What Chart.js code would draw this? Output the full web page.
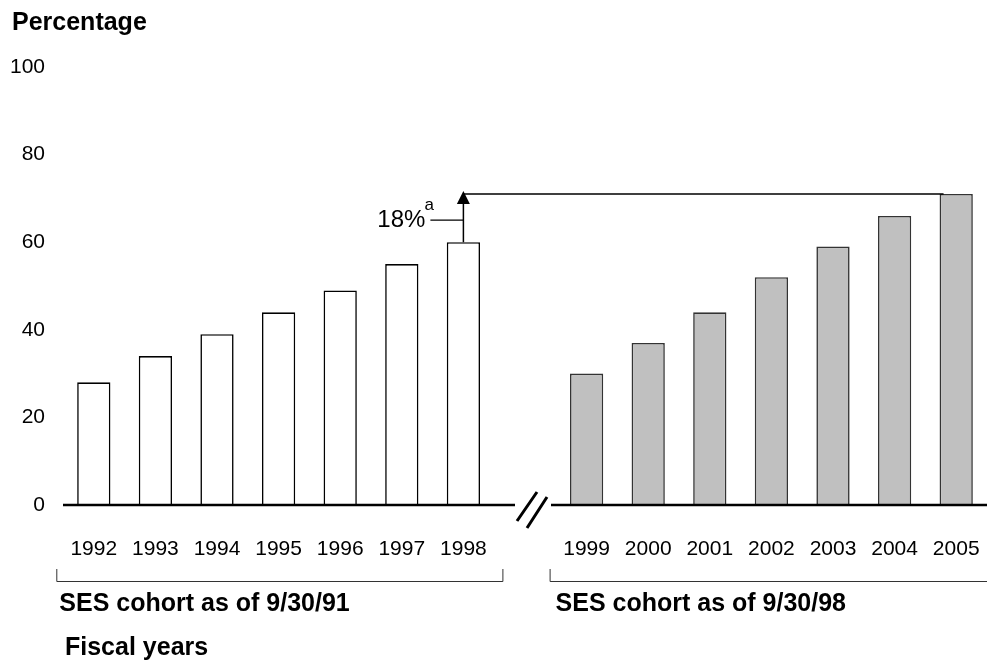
<!DOCTYPE html>
<html>
<head>
<meta charset="utf-8">
<script src="https://cdn.jsdelivr.net/npm/chart.js@4/dist/chart.umd.min.js"></script>
<style>
  html, body { margin: 0; padding: 0; background: #fff; overflow: hidden; }
  #wrap { width: 987px; height: 664px; position: relative; }
</style>
</head>
<body>
<div id="wrap"><canvas id="c" width="987" height="664"></canvas></div>
<script>
// ---- data ----
const yearsCohort91 = ['1992', '1993', '1994', '1995', '1996', '1997', '1998'];
const valuesCohort91 = [28, 34, 39, 44, 49, 55, 60];
const yearsCohort98 = ['1999', '2000', '2001', '2002', '2003', '2004', '2005'];
const valuesCohort98 = [30, 37, 44, 52, 59, 66, 71];
const yTicks = [0, 20, 40, 60, 80, 100];
const yAxisTitle = 'Percentage';
const xAxisTitle = 'Fiscal years';
const groupLabel91 = 'SES cohort as of 9/30/91';
const groupLabel98 = 'SES cohort as of 9/30/98';
const increaseLabel = '18%';
const increaseNote = 'a';

// category list with one empty slot for the axis break
const categories = [...yearsCohort91, '', ...yearsCohort98];
const gapIndex = yearsCohort91.length;
const data91 = categories.map((c, i) => i < gapIndex ? valuesCohort91[i] : null);
const data98 = categories.map((c, i) => i > gapIndex ? valuesCohort98[i - gapIndex - 1] : null);

const FONT = '"Liberation Sans", Arial, Helvetica, sans-serif';

const annotations = {
  id: 'annotations',
  afterDatasetsDraw(chart) {
    const ctx = chart.ctx;
    const x = chart.scales.x, y = chart.scales.y;
    const area = chart.chartArea;
    const y0 = y.getPixelForValue(0);
    const mid = (x.getPixelForValue(gapIndex - 1) + x.getPixelForValue(gapIndex + 1)) / 2 + 8;
    ctx.save();
    // baseline with break
    ctx.strokeStyle = '#000';
    ctx.lineWidth = 2.5;
    ctx.beginPath();
    ctx.moveTo(area.left, y0); ctx.lineTo(mid - 18, y0);
    ctx.moveTo(mid + 18, y0); ctx.lineTo(chart.width, y0);
    ctx.stroke();
    ctx.lineWidth = 3;
    ctx.beginPath();
    ctx.moveTo(mid - 16, y0 + 16); ctx.lineTo(mid + 4, y0 - 13);
    ctx.moveTo(mid - 6, y0 + 23); ctx.lineTo(mid + 14, y0 - 8);
    ctx.stroke();

    // arrow from last 1991-cohort bar up to level of last 1998-cohort bar
    const barA = chart.getDatasetMeta(0).data[gapIndex - 1];
    const barB = chart.getDatasetMeta(1).data[categories.length - 1];
    const ax = barA.x;
    const topA = barA.y;
    const levelY = barB.y;
    ctx.lineWidth = 1.5;
    ctx.beginPath();
    ctx.moveTo(ax, topA); ctx.lineTo(ax, levelY + 8);
    ctx.moveTo(ax, levelY); ctx.lineTo(barB.x - barB.width / 2 + 4, levelY);
    ctx.stroke();
    ctx.fillStyle = '#000';
    ctx.beginPath();
    ctx.moveTo(ax, levelY - 3);
    ctx.lineTo(ax - 6.5, levelY + 10);
    ctx.lineTo(ax + 6.5, levelY + 10);
    ctx.closePath();
    ctx.fill();
    // leader line to label
    const ly = (topA + levelY) / 2 + 2;
    ctx.lineWidth = 1.2;
    ctx.beginPath();
    ctx.moveTo(ax - 33, ly); ctx.lineTo(ax, ly);
    ctx.stroke();
    ctx.font = '24px ' + FONT;
    ctx.textAlign = 'right';
    ctx.textBaseline = 'alphabetic';
    ctx.fillText(increaseLabel, ax - 38, ly + 7);
    ctx.font = '17px ' + FONT;
    ctx.textAlign = 'left';
    ctx.fillText(increaseNote, ax - 39, ly - 10);

    // group brackets
    const bY = 581, tY = 569;
    const l1 = x.getPixelForValue(0) - 37.5, r1 = x.getPixelForValue(gapIndex - 1) + 39;
    const l2 = x.getPixelForValue(gapIndex + 1) - 37, r2 = chart.width;
    ctx.lineWidth = 1;
    ctx.strokeStyle = '#333';
    ctx.beginPath();
    ctx.moveTo(l1 + 0.5, tY); ctx.lineTo(l1 + 0.5, bY + 0.5); ctx.lineTo(r1 + 0.5, bY + 0.5); ctx.lineTo(r1 + 0.5, tY);
    ctx.moveTo(l2 + 0.5, tY); ctx.lineTo(l2 + 0.5, bY + 0.5); ctx.lineTo(r2, bY + 0.5);
    ctx.stroke();

    // bold texts
    ctx.fillStyle = '#000';
    ctx.font = 'bold 25px ' + FONT;
    ctx.textAlign = 'left';
    ctx.fillText(yAxisTitle, 12, 30);
    ctx.fillText(groupLabel91, l1 + 3, 611);
    ctx.fillText(groupLabel98, l2 + 6, 611);
    ctx.fillText(xAxisTitle, 65, 655);
    ctx.restore();
  }
};

new Chart(document.getElementById('c'), {
  type: 'bar',
  data: {
    labels: categories,
    datasets: [
      {
        label: groupLabel91,
        data: data91,
        backgroundColor: '#ffffff',
        borderColor: '#000000',
        borderWidth: 1.6,
        grouped: false,
        categoryPercentage: 1,
        barPercentage: 0.54
      },
      {
        label: groupLabel98,
        data: data98,
        backgroundColor: '#c0c0c0',
        borderColor: '#333333',
        borderWidth: 1.6,
        grouped: false,
        categoryPercentage: 1,
        barPercentage: 0.54
      }
    ]
  },
  options: {
    responsive: false,
    animation: false,
    events: [],
    layout: { padding: { top: 67, right: 0, bottom: 0, left: 0 } },
    plugins: { legend: { display: false }, tooltip: { enabled: false }, title: { display: false } },
    scales: {
      x: {
        type: 'category',
        offset: true,
        grid: { display: false, drawTicks: false },
        border: { display: false },
        ticks: {
          color: '#000',
          font: { family: FONT, size: 21 },
          padding: 32,
          autoSkip: false,
          maxRotation: 0,
          minRotation: 0
        },
        afterFit(scale) {
          scale.height = 159;
          scale.paddingLeft = 0;
          scale.paddingRight = 0;
        }
      },
      y: {
        min: 0,
        max: 100,
        grid: { display: false, drawTicks: false },
        border: { display: false },
        afterBuildTicks(scale) { scale.ticks = yTicks.map(v => ({ value: v })); },
        ticks: {
          color: '#000',
          font: { family: FONT, size: 21 },
          padding: 18
        },
        afterFit(scale) { scale.width = 63; }
      }
    }
  },
  plugins: [annotations]
});
</script>
</body>
</html>
